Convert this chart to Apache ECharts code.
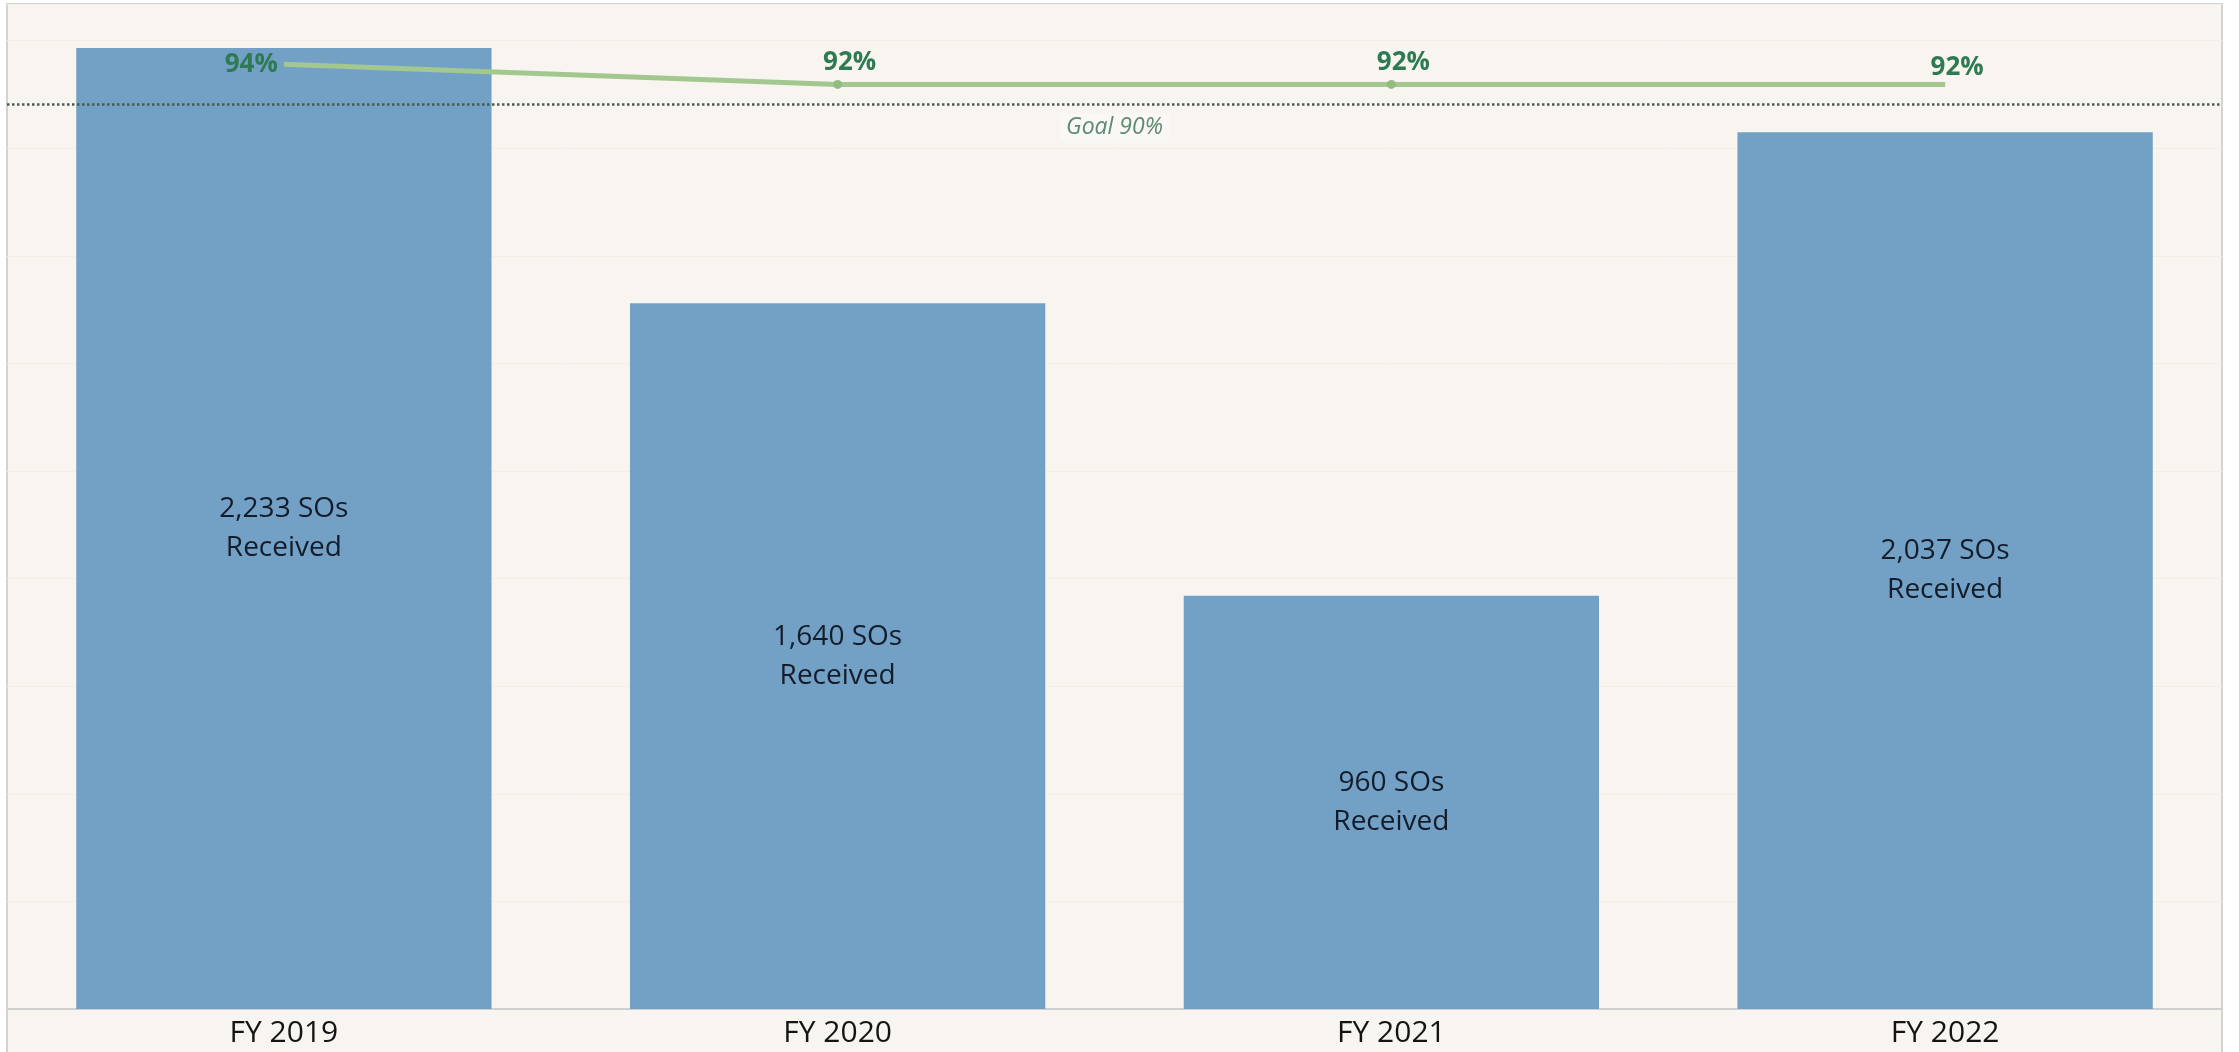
<!DOCTYPE html>
<html>
<head>
<meta charset="utf-8">
<title>Service Orders Received by Fiscal Year</title>
<script src="https://cdn.jsdelivr.net/npm/echarts@6/dist/echarts.min.js"></script>
<style>
  html, body { margin: 0; padding: 0; background: #ffffff; }
  #chart { width: 2239px; height: 1052px; }
</style>
</head>
<body>
<div id="chart"></div>
<script>
// Fiscal years shown along the bottom axis
const categories = ['FY 2019', 'FY 2020', 'FY 2021', 'FY 2022'];
// Service orders received per fiscal year
const received = [2233, 1640, 960, 2037];
// Percentage rate per fiscal year (line)
const rate = [94, 92, 92, 92];
// Target rate shown as a dotted reference line
const goalRate = 90;

const FONT = '"Open Sans", "Noto Sans", sans-serif';
const chart = echarts.init(document.getElementById('chart'), null, { renderer: 'canvas' });

const W = 2239, H = 1052;
const frame = { left: 7, top: 4, right: 2222 };

const option = {
  backgroundColor: '#ffffff',
  animation: false,
  textStyle: { fontFamily: FONT },
  graphic: [{
    type: 'rect',
    z: -10,
    silent: true,
    shape: { x: frame.left, y: frame.top, width: frame.right - frame.left, height: H + 10 - frame.top },
    style: { fill: '#f8f5f0', stroke: '#d3d3d3', lineWidth: 2 }
  }],
  grid: { left: frame.left, right: W - frame.right, top: frame.top, bottom: 43 },
  xAxis: {
    type: 'category',
    data: categories,
    axisTick: { show: false },
    axisLine: { lineStyle: { color: '#cfcfcf', width: 2 } },
    axisLabel: { color: '#141414', fontSize: 30, fontFamily: FONT, margin: 9 }
  },
  yAxis: [{
    type: 'value',
    min: 0,
    max: 2335,
    interval: 250,
    axisLabel: { show: false },
    axisLine: { show: false },
    axisTick: { show: false },
    splitLine: { lineStyle: { color: '#f2eee8', width: 1 } }
  }, {
    type: 'value',
    min: 0,
    max: 100,
    show: false,
    splitLine: { show: false }
  }],
  series: [{
    name: 'SOs Received',
    type: 'bar',
    data: received,
    barCategoryGap: '25%',
    itemStyle: { color: '#73a0c5' },
    label: {
      show: true,
      position: 'inside',
      color: '#121c2a',
      fontSize: 28,
      lineHeight: 39,
      fontFamily: FONT,
      formatter: p => p.value.toLocaleString('en-US') + ' SOs\nReceived'
    },
    z: 2
  }, {
    name: 'Rate',
    type: 'line',
    yAxisIndex: 1,
    data: rate.map((v, i) => i === 0
      ? { value: v, label: { position: 'left', distance: 6, offset: [0, 0] } }
      : v),
    symbol: 'circle',
    symbolSize: (v, p) => (p.dataIndex === 0 || p.dataIndex === rate.length - 1) ? 0 : 9,
    lineStyle: { color: '#a2c78f', width: 5, cap: 'butt' },
    itemStyle: { color: '#93bb80' },
    label: {
      show: true,
      position: 'top',
      distance: 4,
      offset: [12, 0],
      color: '#2f7a52',
      fontSize: 26,
      fontWeight: 'bold',
      fontFamily: FONT,
      formatter: p => p.value + '%'
    },
    markLine: {
      silent: true,
      symbol: 'none',
      lineStyle: { color: '#485a50', type: 'dotted', width: 2.5 },
      label: {
        show: true,
        position: 'insideMiddleBottom',
        distance: 9,
        color: '#5e8a70',
        fontSize: 23,
        fontStyle: 'italic',
        fontFamily: FONT,
        backgroundColor: '#faf8f5',
        padding: [2, 6],
        formatter: 'Goal ' + goalRate + '%'
      },
      data: [{ yAxis: goalRate }]
    },
    z: 5
  }]
};

chart.setOption(option);
</script>
</body>
</html>
